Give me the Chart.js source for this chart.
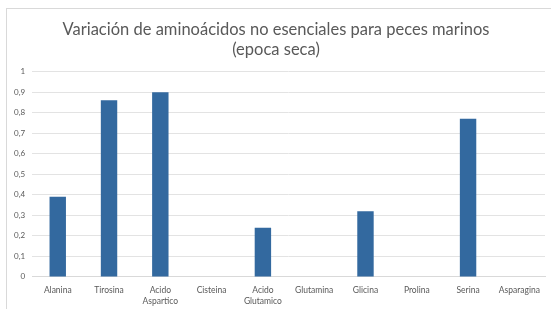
<!doctype html>
<html lang="es">
<head>
  <meta charset="utf-8">
  <script src="https://cdn.jsdelivr.net/npm/chart.js"></script>
  <style>
    html, body {
      margin: 0;
      padding: 0;
      background: #ffffff;
    }
    #marco {
      position: absolute;
      left: 6px;
      top: 8px;
      width: 600px;
      height: 400px;
      border: 1px solid #d9d9d9;
    }
    #grafico {
      position: absolute;
      left: 0;
      top: 0;
      width: 551px;
      height: 309px;
    }
  </style>
  <title>Aminoácidos no esenciales</title>
</head>
<body>
  <div id="marco"></div>
  <div id="grafico"><canvas id="aminoChart"></canvas></div>

  <script>
    // Datos
    const categorias = [
      "Alanina", "Tirosina", ["Acido", "Aspartico"], "Cisteina", ["Acido", "Glutamico"],
      "Glutamina", "Glicina", "Prolina", "Serina", "Asparagina"
    ];
    const valores = [0.39, 0.86, 0.90, 0, 0.24, 0, 0.32, 0, 0.77, 0];
    const titulo = ["Variación de aminoácidos no esenciales para peces marinos", "(epoca seca)"];

    const gris = "#595959";

    new Chart(document.getElementById("aminoChart"), {
      type: "bar",
      data: {
        labels: categorias,
        datasets: [{
          data: valores,
          backgroundColor: "#33699f",
          borderWidth: 0,
          barPercentage: 0.32,
          categoryPercentage: 1
        }]
      },
      options: {
        responsive: true,
        maintainAspectRatio: false,
        animation: false,
        layout: { padding: { left: 7, right: 6, top: 18, bottom: -6 } },
        plugins: {
          legend: { display: false },
          tooltip: { enabled: false },
          title: {
            display: true,
            text: titulo,
            color: gris,
            font: { family: "Lato, 'Open Sans', sans-serif", size: 16.5, weight: "normal" },
            lineHeight: 1.12,
            padding: { top: 2, bottom: 12 }
          }
        },
        scales: {
          x: {
            grid: { display: false, drawTicks: false },
            border: { color: "#d9d9d9" },
            ticks: {
              color: gris,
              font: { family: "Lato, 'Open Sans', sans-serif", size: 8.5, lineHeight: 1.3 },
              maxRotation: 0,
              autoSkip: false,
              padding: 8
            }
          },
          y: {
            min: 0,
            max: 1,
            grid: { color: "#e3e3e3", drawTicks: false },
            border: { display: false },
            ticks: {
              stepSize: 0.1,
              color: gris,
              padding: 7,
              font: { family: "Lato, 'Open Sans', sans-serif", size: 8 },
              callback: v => String(Math.round(v * 10) / 10).replace(".", ",")
            }
          }
        }
      }
    });
  </script>
</body>
</html>
